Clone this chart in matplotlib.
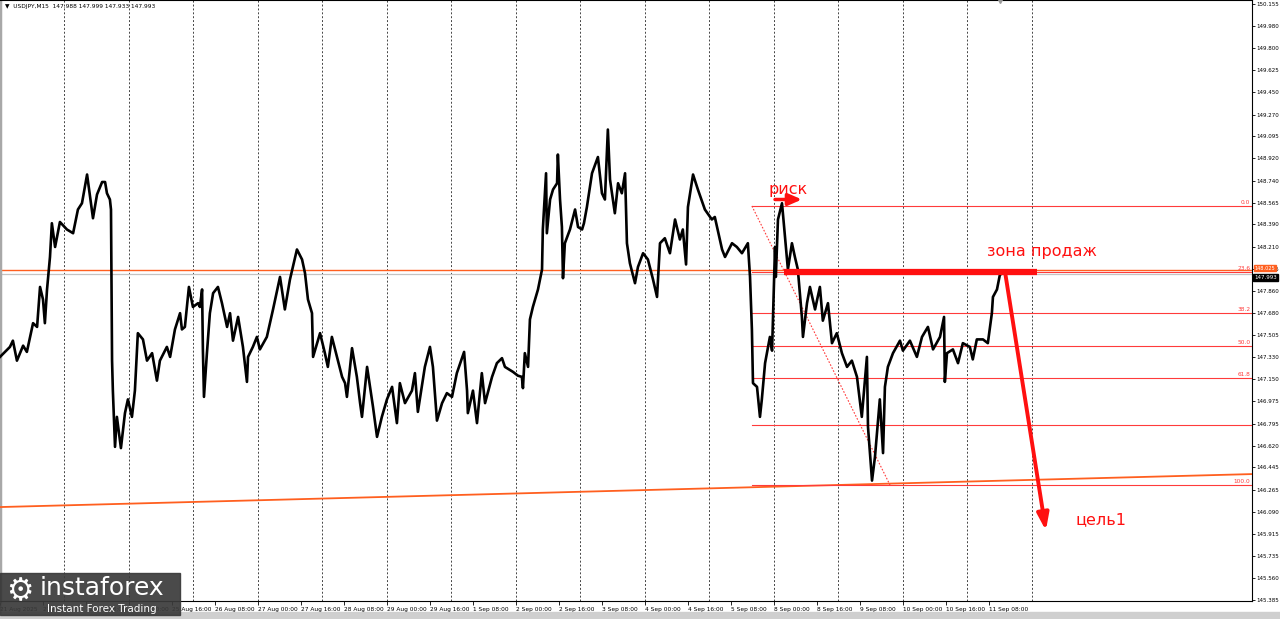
import matplotlib
matplotlib.use("Agg")
import matplotlib.pyplot as plt
import matplotlib.transforms as mtransforms
from matplotlib.patches import Rectangle

# price path, x = trading hours since 21 Aug 00:00 (weekends skipped)
week1_hours = [0, 3.7, 4.8, 6.3, 8.6, 10.0, 12.3, 13.8, 14.9, 16.0, 16.7, 17.5, 18.6, 19.3, 20.5,
               22.3, 24.9, 27.2, 29.0, 30.5, 32.4, 34.6, 36.1, 38.0, 39.1, 39.8, 40.9, 41.3, 41.7,
               42.0, 42.8, 43.5, 45.0, 46.5, 47.6]
week1_prices = [147.33, 147.41, 147.46, 147.30, 147.42, 147.37, 147.60, 147.57, 147.89, 147.79,
                147.60, 147.87, 148.13, 148.40, 148.21, 148.41, 148.35, 148.32, 148.51, 148.56,
                148.79, 148.44, 148.63, 148.73, 148.73, 148.64, 148.59, 148.51, 147.30, 147.06,
                146.61, 146.85, 146.60, 146.88, 146.99]

week2_hours = [49.1, 50.2, 51.3, 53.2, 54.7, 56.6, 58.4, 59.5, 62.1, 63.3, 65.1, 67.0, 67.7, 68.8,
               70.3, 71.8, 73.7, 74.4, 75.2, 75.5, 75.9, 77.0, 78.1, 79.3, 81.1, 82.6, 84.5, 85.6,
               86.7, 88.6, 90.4, 91.9, 92.3, 94.1, 95.6, 96.7, 99.3, 101.6, 104.2, 106.0, 107.9,
               110.5, 112.4, 113.5, 114.6, 116.1, 116.5, 118.3, 119.1, 120.9, 122.0, 123.5, 125.4,
               127.3, 128.4, 129.1, 131.0, 132.8, 134.0, 134.7, 136.6, 137.7, 138.8, 140.3, 142.1,
               144.0, 145.9, 147.7, 148.8, 150.7, 153.3, 154.4, 155.5, 158.1, 160.0, 161.1, 162.6,
               164.5, 166.3]
week2_prices = [146.85, 147.06, 147.52, 147.47, 147.30, 147.36, 147.14, 147.30, 147.41, 147.33,
                147.55, 147.68, 147.55, 147.57, 147.89, 147.73, 147.76, 147.73, 147.87, 147.39,
                147.01, 147.36, 147.68, 147.84, 147.89, 147.76, 147.57, 147.68, 147.46, 147.65,
                147.41, 147.13, 147.33, 147.41, 147.49, 147.39, 147.49, 147.71, 147.97, 147.71,
                147.95, 148.19, 148.11, 148.00, 147.79, 147.68, 147.33, 147.46, 147.52, 147.36,
                147.25, 147.49, 147.33, 147.17, 147.12, 147.01, 147.40, 147.17, 146.96, 146.85,
                147.25, 147.09, 146.93, 146.69, 146.85, 146.99, 147.09, 146.80, 147.12, 146.96,
                147.06, 147.20, 146.89, 147.25, 147.41, 147.25, 146.82, 146.96, 147.04]

week3_hours = [168.2, 170.0, 172.7, 173.8, 174.1, 176.0, 177.5, 179.3, 180.5, 183.1, 184.9, 186.8,
               187.9, 190.9, 192.7, 194.2, 194.6, 195.3, 196.5, 197.2, 198.3, 200.2, 201.7, 202.0,
               203.2, 203.5, 204.7, 205.8, 207.3, 207.6, 208.4, 209.1, 209.5, 210.2, 212.1, 214.0,
               215.1, 216.6, 217.3, 218.4, 220.3, 222.5, 224.0, 225.1, 226.2, 227.0, 228.8, 230.0,
               231.4, 232.6, 233.3, 234.4, 236.3, 237.4, 239.3, 241.1, 243.0, 244.5, 245.6, 247.4,
               249.3, 251.2, 253.0, 254.1, 255.3, 256.0, 257.9, 259.7, 262.3, 264.9, 266.0, 268.7,
               269.8, 272.4, 274.2, 276.1, 278.3, 279.1, 279.8, 280.2, 281.7, 282.8, 283.5, 284.7,
               286.5, 287.3]
week3_prices = [147.01, 147.20, 147.37, 147.06, 146.88, 147.06, 146.80, 147.20, 146.96, 147.17,
                147.28, 147.32, 147.25, 147.21, 147.18, 147.17, 147.08, 147.36, 147.25, 147.63,
                147.73, 147.87, 148.03, 148.35, 148.80, 148.32, 148.59, 148.67, 148.72, 148.95,
                148.59, 148.37, 147.96, 148.24, 148.35, 148.51, 148.37, 148.35, 148.40, 148.53,
                148.80, 148.93, 148.64, 148.59, 149.15, 148.75, 148.48, 148.72, 148.64, 148.80,
                148.24, 148.08, 147.92, 148.05, 148.16, 148.11, 147.95, 147.81, 148.24, 148.28,
                148.16, 148.43, 148.27, 148.35, 148.07, 148.53, 148.79, 148.67, 148.51, 148.43,
                148.45, 148.19, 148.13, 148.24, 148.21, 148.16, 148.24, 147.97, 147.55, 147.12,
                147.09, 146.85, 146.99, 147.28, 147.49, 147.38]

week4_hours = [288.4, 288.7, 289.5, 291.0, 292.1, 293.2, 294.7, 295.8, 296.9, 298.4, 298.8, 300.3,
               301.4, 303.3, 305.1, 306.2, 308.1, 309.6, 311.4, 313.3, 315.2, 317.0, 318.9, 320.7,
               322.6, 323.0, 324.5, 325.6, 327.4, 328.6, 329.3, 330.4, 332.3, 334.9, 336.0, 338.6,
               341.2, 343.1, 345.3, 347.2, 349.8, 351.3, 351.6, 352.4, 354.6, 356.5, 358.3, 360.9,
               362.0, 363.5, 365.8, 367.6, 369.1, 369.5, 371.0, 372.1, 372.5]
week4_prices = [148.21, 147.97, 148.43, 148.56, 148.29, 148.03, 148.24, 148.13, 148.03, 147.65,
                147.49, 147.76, 147.89, 147.71, 147.89, 147.62, 147.76, 147.44, 147.52, 147.36,
                147.25, 147.30, 147.17, 146.85, 147.33, 146.77, 146.34, 146.53, 146.99, 146.56,
                147.09, 147.25, 147.36, 147.46, 147.38, 147.46, 147.33, 147.49, 147.57, 147.39,
                147.49, 147.65, 147.13, 147.36, 147.39, 147.28, 147.44, 147.41, 147.31, 147.47,
                147.47, 147.44, 147.68, 147.81, 147.87, 147.99, 147.993]

# fibonacci retracement
fib_start_hour = 279.8
fib_end_hour = 331.2
fib_high = 148.538
fib_low = 146.304
fib_ratios = [0.0, 23.6, 38.2, 50.0, 61.8, 78.6, 100.0]
fib_labels = ["0.0", "23.6", "38.2", "50.0", "61.8", "", "100.0"]

# other drawn objects
hline_orange = 148.025
bid_price = 147.993
trend_hours = [0, 465.9]
trend_prices = [146.128, 146.392]
zone_hours = [291.7, 385.9]
zone_price = 148.01
target_arrow = [(374.0, 148.01), (389.2, 145.94)]
risk_arrow = [(288.4, 148.59), (298.4, 148.59)]

ytick_values = [150.155, 149.980, 149.800, 149.625, 149.450, 149.270, 149.095, 148.920, 148.740,
                148.565, 148.390, 148.210, 148.035, 147.860, 147.680, 147.505, 147.330, 147.150,
                146.975, 146.795, 146.620, 146.445, 146.265, 146.090, 145.915, 145.735, 145.560,
                145.385]
xtick_hours = list(range(0, 369, 16))
xtick_labels = ["21 Aug 2025", "21 Aug 16:00", "22 Aug 08:00", "25 Aug 00:00", "25 Aug 16:00",
                "26 Aug 08:00", "27 Aug 00:00", "27 Aug 16:00", "28 Aug 08:00", "29 Aug 00:00",
                "29 Aug 16:00", "1 Sep 08:00", "2 Sep 00:00", "2 Sep 16:00", "3 Sep 08:00",
                "4 Sep 00:00", "4 Sep 16:00", "5 Sep 08:00", "8 Sep 00:00", "8 Sep 16:00",
                "9 Sep 08:00", "10 Sep 00:00", "10 Sep 16:00", "11 Sep 08:00"]
day_lines = list(range(0, 385, 24))

RED = "#ff1010"
FIB = "#ff3b3b"
ORANGE = "#ff5f1f"

W, H = 1280, 619
fig = plt.figure(figsize=(W / 100, H / 100), dpi=100)
fig.patch.set_facecolor("white")
ax = fig.add_axes([0, 18 / H, 1252 / W, 601 / H])
ax.set_xlim(0, 465.9)
ax.set_ylim(145.376, 150.187)

# day separators
for d in day_lines:
    ax.axvline(d, color="#444444", lw=0.7, ls=(0, (2, 2)), zorder=1)

# price line
hours = week1_hours + week2_hours + week3_hours + week4_hours
prices = week1_prices + week2_prices + week3_prices + week4_prices
ax.plot(hours, prices, color="black", lw=1.9, zorder=4)

# horizontal levels
ax.axhline(hline_orange, color=ORANGE, lw=1.0, zorder=2)
ax.axhline(bid_price, color="#c4c4c4", lw=0.9, zorder=2)
ax.plot(trend_hours, trend_prices, color=ORANGE, lw=1.3, zorder=3)

# fibo
rng = fib_high - fib_low
for r, lab in zip(fib_ratios, fib_labels):
    lvl = fib_high - rng * r / 100
    ax.plot([fib_start_hour, 465.9], [lvl, lvl], color=FIB, lw=0.8, zorder=3)
    if lab:
        ax.text(465.3, lvl + 0.008, lab, color=FIB, fontsize=4.2, ha="right", va="bottom")
ax.plot([fib_start_hour, fib_end_hour], [fib_high, fib_low], color=FIB, lw=0.8,
        ls=(0, (1.5, 1.5)), zorder=3)

# sell zone, arrows and notes
ax.plot(zone_hours, [zone_price, zone_price], color=RED, lw=4.5, solid_capstyle="butt", zorder=5)
ax.annotate("", xy=target_arrow[1], xytext=target_arrow[0],
            arrowprops=dict(arrowstyle="-|>,head_length=1.0,head_width=0.35", lw=2.8,
                            color=RED, shrinkA=0, shrinkB=0), zorder=6)
ax.annotate("", xy=risk_arrow[1], xytext=risk_arrow[0],
            arrowprops=dict(arrowstyle="-|>,head_length=0.8,head_width=0.35", lw=2.5,
                            color=RED, shrinkA=0, shrinkB=0), zorder=6)
ax.text(285.8, 148.67, "риск", color=RED, fontsize=11.5, va="center")
ax.text(367.3, 148.17, "зона продаж", color=RED, fontsize=11.5, va="center")
ax.text(400.4, 146.03, "цель1", color=RED, fontsize=11.5, va="center")

# axes look
for s in ax.spines.values():
    s.set_color("black")
    s.set_linewidth(0.8)
ax.spines["left"].set_color("#a8a8a8")
ax.spines["left"].set_linewidth(2.5)
ax.yaxis.tick_right()
ax.set_yticks(ytick_values)
ax.set_yticklabels([f"{v:.3f}" for v in ytick_values])
ax.tick_params(axis="y", direction="out", length=2, width=0.6, labelsize=4.0, pad=0.8,
               colors="black")
ax.set_xticks(xtick_hours)
ax.set_xticklabels(xtick_labels)
ax.tick_params(axis="x", direction="out", length=3, width=0.6, labelsize=4.2, pad=1.5)
for lbl in ax.get_xticklabels():
    lbl.set_ha("left")

# price tags on the right scale
tr = mtransforms.blended_transform_factory(ax.transAxes, ax.transData)
ax.text(1.002, hline_orange + 0.014, "148.025", transform=tr, fontsize=3.6, color="white",
        va="center", ha="left",
        bbox=dict(boxstyle="square,pad=0.12", fc=ORANGE, ec=ORANGE))
ax.text(1.002, bid_price - 0.03, "147.993", transform=tr, fontsize=4.0, color="white",
        va="center", ha="left",
        bbox=dict(boxstyle="square,pad=0.2", fc="black", ec="black"))

ax.text(0.004, 0.993, "▼  USDJPY,M15  147.988 147.999 147.933 147.993", transform=ax.transAxes,
        fontsize=4.2, va="top", ha="left")
ax.plot([372.1], [150.187], marker="v", color="#999999", ms=4, clip_on=False, zorder=7)

# bottom strip and logo
fig.add_artist(Rectangle((0, 0), 1, 7 / H, transform=fig.transFigure, color="#cfcfcf", zorder=0))
fig.add_artist(Rectangle((0, 4 / H), 180 / W, 42 / H, transform=fig.transFigure,
                         color="#3a3a3a", alpha=0.92, zorder=10))
fig.text(6 / W, 1 - 592 / H, "⚙", color="white", fontsize=22, va="center", zorder=11)
fig.text(40 / W, 1 - 588 / H, "instaforex", color="white", fontsize=18, va="center", zorder=11)
fig.text(47 / W, 1 - 609 / H, "Instant Forex Trading", color="white", fontsize=7.5,
         va="center", zorder=11)

fig.savefig("out.png", dpi=100)
